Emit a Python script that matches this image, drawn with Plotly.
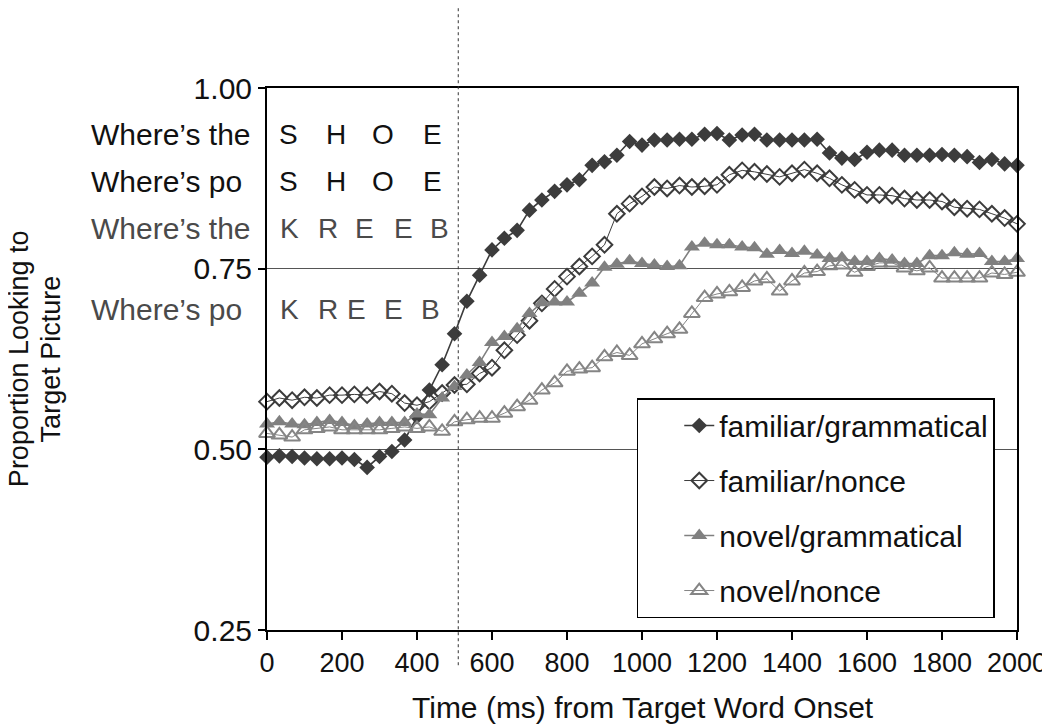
import plotly.graph_objects as go

# time bins (ms from target word onset)
time_ms = [0, 33, 67, 100, 133, 167, 200, 233, 267, 300,
           333, 367, 400, 433, 467, 500, 533, 567, 600, 633,
           667, 700, 733, 767, 800, 833, 867, 900, 933, 967,
           1000, 1033, 1067, 1100, 1133, 1167, 1200, 1233, 1267, 1300,
           1333, 1367, 1400, 1433, 1467, 1500, 1533, 1567, 1600, 1633,
           1667, 1700, 1733, 1767, 1800, 1833, 1867, 1900, 1933, 1967, 2000]

fam_gram = [0.489, 0.491, 0.490, 0.488, 0.487, 0.487, 0.488, 0.486, 0.475, 0.490,
            0.497, 0.513, 0.545, 0.582, 0.617, 0.660, 0.705, 0.741, 0.776, 0.792,
            0.803, 0.831, 0.845, 0.857, 0.866, 0.873, 0.893, 0.898, 0.907, 0.926,
            0.921, 0.928, 0.928, 0.929, 0.929, 0.936, 0.937, 0.928, 0.935, 0.936,
            0.928, 0.928, 0.928, 0.928, 0.929, 0.910, 0.903, 0.901, 0.911, 0.914,
            0.914, 0.907, 0.907, 0.907, 0.908, 0.907, 0.905, 0.897, 0.901, 0.895, 0.893]

fam_nonce = [0.566, 0.571, 0.568, 0.572, 0.571, 0.575, 0.575, 0.576, 0.575, 0.580,
             0.577, 0.564, 0.561, 0.566, 0.578, 0.589, 0.590, 0.605, 0.613, 0.637,
             0.658, 0.678, 0.702, 0.722, 0.739, 0.753, 0.767, 0.783, 0.826, 0.840,
             0.850, 0.863, 0.861, 0.865, 0.863, 0.864, 0.866, 0.880, 0.886, 0.884,
             0.881, 0.877, 0.882, 0.887, 0.882, 0.875, 0.866, 0.859, 0.852, 0.852,
             0.851, 0.847, 0.845, 0.845, 0.843, 0.835, 0.833, 0.832, 0.826, 0.820, 0.812]

nov_gram = [0.535, 0.538, 0.535, 0.534, 0.537, 0.540, 0.537, 0.533, 0.535, 0.537,
            0.537, 0.537, 0.549, 0.548, 0.571, 0.587, 0.603, 0.620, 0.648, 0.656,
            0.667, 0.688, 0.703, 0.704, 0.704, 0.716, 0.730, 0.752, 0.756, 0.761,
            0.757, 0.755, 0.753, 0.754, 0.780, 0.785, 0.783, 0.783, 0.780, 0.779,
            0.770, 0.775, 0.771, 0.774, 0.769, 0.764, 0.765, 0.760, 0.760, 0.764,
            0.762, 0.757, 0.757, 0.768, 0.768, 0.772, 0.770, 0.771, 0.760, 0.760, 0.764]

nov_nonce = [0.522, 0.520, 0.517, 0.527, 0.529, 0.531, 0.527, 0.527, 0.527, 0.527,
             0.529, 0.531, 0.529, 0.531, 0.525, 0.538, 0.541, 0.543, 0.543, 0.550,
             0.559, 0.568, 0.582, 0.592, 0.608, 0.611, 0.613, 0.628, 0.634, 0.630,
             0.646, 0.653, 0.660, 0.666, 0.688, 0.710, 0.715, 0.718, 0.724, 0.733,
             0.736, 0.719, 0.733, 0.744, 0.746, 0.754, 0.755, 0.745, 0.753, 0.758,
             0.758, 0.751, 0.747, 0.751, 0.737, 0.737, 0.737, 0.737, 0.744, 0.742, 0.745]

x_ticks = [0, 200, 400, 600, 800, 1000, 1200, 1400, 1600, 1800, 2000]
y_ticks = [0.25, 0.50, 0.75, 1.00]
y_ticktext = ['0.25', '0.50', '0.75', '1.00']

# carrier phrases and the target words spelled out letter by letter
phrases = ['Where\u2019s the', 'Where\u2019s po', 'Where\u2019s the', 'Where\u2019s po']
phrase_y = [0.935, 0.870, 0.806, 0.693]
words = [['S', 'H', 'O', 'E'], ['S', 'H', 'O', 'E'],
         ['K', 'R', 'E', 'E', 'B'], ['K', 'R', 'E', 'E', 'B']]
letter_x = [[57, 185, 309, 441], [57, 185, 309, 441],
            [61, 163, 261, 363, 461], [61, 163, 238, 336, 435]]
row_colors = ['#111111', '#111111', '#4a4a4a', '#4a4a4a']

y_title_lines = ['Proportion Looking to', 'Target Picture']

onset_ms = 510

FONT = 'Liberation Sans, Arial, sans-serif'

fig = go.Figure()

series = [
    ('familiar/grammatical', fam_gram, 'diamond', '#3c3c3c', 1.6),
    ('familiar/nonce', fam_nonce, 'diamond-open', '#3c3c3c', 1.0),
    ('novel/grammatical', nov_gram, 'triangle-up', '#808080', 1.6),
    ('novel/nonce', nov_nonce, 'triangle-up-open', '#858585', 1.0),
]

for i, (name, vals, sym, col, lw) in enumerate(series):
    fig.add_trace(go.Scatter(
        x=time_ms, y=vals, name=name, mode='lines+markers',
        legendgroup='g%d' % i,
        cliponaxis=False,
        line=dict(color=col, width=lw),
        marker=dict(symbol=sym, size=12 if 'diamond' in sym else 14,
                    color=col, line=dict(color=col, width=2 if 'open' in sym else 0))
    ))

# carrier phrases sit left of the axis, left aligned
for txt, yv, col in zip(phrases, phrase_y, row_colors):
    fig.add_annotation(x=-0.237, xref='paper', y=yv, yref='y', text=txt,
                       showarrow=False, xanchor='left', yanchor='middle',
                       font=dict(size=30, color=col, family=FONT))

for letters, xs, yv, col in zip(words, letter_x, phrase_y, row_colors):
    for ch, xv in zip(letters, xs):
        fig.add_annotation(x=xv, xref='x', y=yv, yref='y', text=ch,
                           showarrow=False, xanchor='center', yanchor='middle',
                           font=dict(size=28, color=col, family=FONT))

# word onset marker
fig.add_shape(type='line', xref='x', x0=onset_ms, x1=onset_ms,
              yref='paper', y0=-0.065, y1=1.16,
              line=dict(color='#333333', width=1, dash='dot'))

# y title as two rotated lines (tighter than plotly's own line spacing)
for txt, xp in zip(y_title_lines, [-0.3305, -0.2875]):
    fig.add_annotation(x=xp, xref='paper', y=0.5, yref='paper',
                       text=txt, textangle=-90,
                       showarrow=False, xanchor='center', yanchor='middle',
                       font=dict(size=27, color='#111111', family=FONT))

fig.add_annotation(x=0.501, xref='paper', y=-0.143, yref='paper',
                   text='Time (ms) from Target Word Onset',
                   showarrow=False, xanchor='center', yanchor='middle',
                   font=dict(size=30, color='#111111', family=FONT))

fig.update_xaxes(range=[0, 2000], tickvals=x_ticks, ticks='outside', ticklen=8,
                 tickwidth=1.5, tickcolor='black', showgrid=False, zeroline=False,
                 showline=True, linecolor='black', linewidth=2, mirror=True,
                 tickfont=dict(size=27, color='#111111', family=FONT))
fig.update_yaxes(range=[0.25, 1.0], tickvals=y_ticks, ticktext=y_ticktext,
                 ticks='outside', ticklen=7, tickwidth=1.5, tickcolor='black',
                 showgrid=True, gridcolor='#555555', gridwidth=1, zeroline=False,
                 showline=True, linecolor='black', linewidth=2, mirror=True,
                 tickfont=dict(size=30, color='#111111', family=FONT))

# page body has an 8px margin, so the figure is 8px smaller each way
fig.update_layout(
    width=1042, height=719,
    margin=dict(l=259, r=33, t=80, b=97, autoexpand=False),
    paper_bgcolor='white', plot_bgcolor='white',
    font=dict(family=FONT, color='#111111'),
    showlegend=True,
    legend=dict(x=0.493, y=0.428, xanchor='left', yanchor='top',
                bgcolor='white', bordercolor='black', borderwidth=1.5,
                font=dict(size=30, color='#111111', family=FONT),
                tracegroupgap=13, indentation=41),
)

fig.write_html('out.html')
